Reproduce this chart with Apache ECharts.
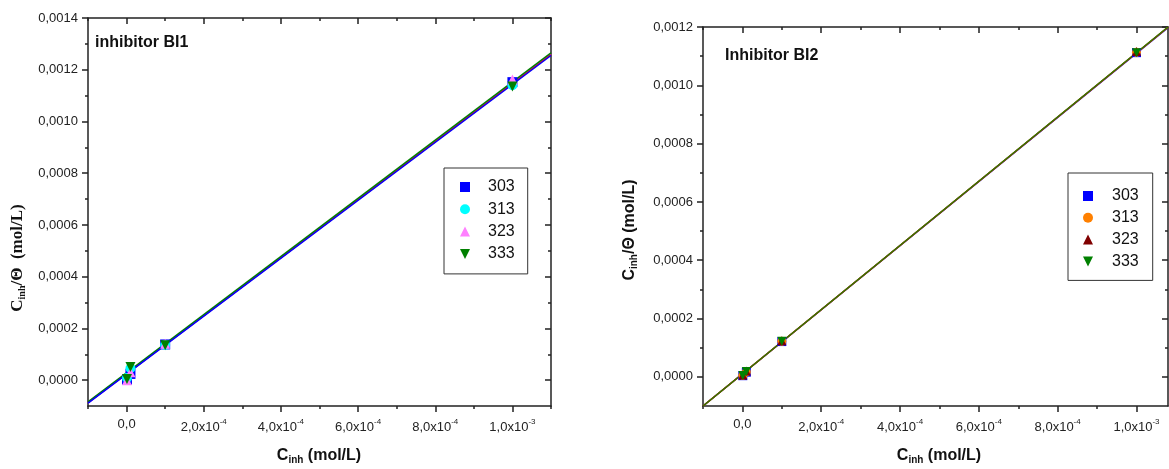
<!DOCTYPE html>
<html>
<head>
<meta charset="utf-8">
<script src="https://cdn.jsdelivr.net/npm/echarts@6/dist/echarts.min.js"></script>
<style>
  html, body { margin: 0; padding: 0; background: #fff; }
  #area { width: 1169px; height: 469px; }
</style>
</head>
<body>
<div id="area"></div>
<script>
// concentrations (mol/L)
const conc = [1e-6, 1e-5, 1e-4, 1e-3];
const temps = ['303', '313', '323', '333'];

// inhibitor BI1 : Cinh/theta
const bi1_303 = [2e-6, 2.4e-5, 1.38e-4, 1.152e-3];
const bi1_313 = [8e-6, 4.6e-5, 1.36e-4, 1.140e-3];
const bi1_323 = [0, 3.0e-5, 1.41e-4, 1.162e-3];
const bi1_333 = [4e-6, 5.1e-5, 1.35e-4, 1.135e-3];
// fit lines BI1 (ends of the plot)
const fitX1 = [-1e-4, 1.1e-3];
const fit1_303 = [-8.9e-5, 1.255e-3];
const fit1_313 = [-8.7e-5, 1.258e-3];
const fit1_323 = [-8.8e-5, 1.260e-3];
const fit1_333 = [-8.4e-5, 1.265e-3];

// inhibitor BI2
const bi2_303 = [4e-6, 1.6e-5, 1.21e-4, 1.112e-3];
const bi2_313 = [5e-6, 1.7e-5, 1.22e-4, 1.113e-3];
const bi2_323 = [6e-6, 2.0e-5, 1.24e-4, 1.116e-3];
const bi2_333 = [5e-6, 1.8e-5, 1.22e-4, 1.112e-3];
const fitX2 = [-1e-4, 1.08e-3];
const fit2_303 = [-1.0e-4, 1.198e-3];
const fit2_313 = [-1.0e-4, 1.199e-3];
const fit2_323 = [-1.0e-4, 1.199e-3];
const fit2_333 = [-1.0e-4, 1.200e-3];

// ticks
const xMajor = [0, 2e-4, 4e-4, 6e-4, 8e-4, 1e-3];
const xLabels = ['0,0', '2,0x10{s|-4}', '4,0x10{s|-4}', '6,0x10{s|-4}', '8,0x10{s|-4}', '1,0x10{s|-3}'];
const xMinor1 = [-1e-4, 1e-4, 3e-4, 5e-4, 7e-4, 9e-4, 1.1e-3];
const xMinor2 = [-1e-4, 1e-4, 3e-4, 5e-4, 7e-4, 9e-4];
const yMajor1 = [0, 2e-4, 4e-4, 6e-4, 8e-4, 1e-3, 1.2e-3, 1.4e-3];
const yLabels1 = ['0,0000', '0,0002', '0,0004', '0,0006', '0,0008', '0,0010', '0,0012', '0,0014'];
const yMinor1 = [1e-4, 3e-4, 5e-4, 7e-4, 9e-4, 1.1e-3, 1.3e-3];
const yMajor2 = [0, 2e-4, 4e-4, 6e-4, 8e-4, 1e-3, 1.2e-3];
const yLabels2 = ['0,0000', '0,0002', '0,0004', '0,0006', '0,0008', '0,0010', '0,0012'];
const yMinor2 = [1e-4, 3e-4, 5e-4, 7e-4, 9e-4, 1.1e-3];

const colors1 = ['#0000ff', '#00ffff', '#ff80ff', '#008000'];
const colors2 = ['#0000ff', '#ff8000', '#800000', '#008000'];
const fitColors1 = ['#0000ff', '#ff0000', '#ff00ff', '#008000'];
const fitColors2 = ['#0000ff', '#ff8000', '#cc0000', '#2e7d00'];
const symbols = ['rect', 'circle', 'triangle', 'triangle'];
const rotates = [0, 0, 0, 180];
const legendIcons = ['rect', 'circle', 'triangle', 'path://M0,0L10,0L5,10Z'];

const axisLine = { color: '#222', width: 1.5 };
const labelFont = { fontFamily: 'Arial, Liberation Sans', fontSize: 13, color: '#222' };

function pick(list, labels, v) {
  for (let i = 0; i < list.length; i++) {
    if (Math.abs(list[i] - v) < 1e-9) return labels[i];
  }
  return '';
}

// 4 axes per dimension: main side (major+minor), opposite side (major+minor)
function boxAxes(grid, min, max, majors, minors, labels, sides, margin) {
  const base = { type: 'value', gridIndex: grid, min: min, max: max, splitLine: { show: false } };
  return [
    Object.assign({}, base, {
      position: sides[0],
      axisLine: { show: true, onZero: false, lineStyle: axisLine },
      axisTick: { show: true, customValues: majors, length: 6, lineStyle: axisLine },
      axisLabel: Object.assign({
        customValues: majors, margin: margin,
        formatter: v => pick(majors, labels, v),
        rich: { s: { fontFamily: 'Arial, Liberation Sans', fontSize: 8, color: '#222', padding: [0, 0, 10, 0] } }
      }, labelFont)
    }),
    Object.assign({}, base, {
      position: sides[0],
      axisLine: { show: false, onZero: false },
      axisTick: { show: true, customValues: minors, length: 3, lineStyle: axisLine },
      axisLabel: { show: false }
    }),
    Object.assign({}, base, {
      position: sides[1],
      axisLine: { show: true, onZero: false, lineStyle: axisLine },
      axisTick: { show: true, inside: true, customValues: majors, length: 6, lineStyle: axisLine },
      axisLabel: { show: false }
    }),
    Object.assign({}, base, {
      position: sides[1],
      axisLine: { show: false, onZero: false },
      axisTick: { show: true, inside: true, customValues: minors, length: 3, lineStyle: axisLine },
      axisLabel: { show: false }
    })
  ];
}

const xAxes = boxAxes(0, -1e-4, 1.1e-3, xMajor, xMinor1, xLabels, ['bottom', 'top'], 12)
  .concat(boxAxes(1, -1e-4, 1.08e-3, xMajor, xMinor2, xLabels, ['bottom', 'top'], 12));
const yAxes = boxAxes(0, -1e-4, 1.4e-3, yMajor1, yMinor1, yLabels1, ['left', 'right'], 10)
  .concat(boxAxes(1, -1e-4, 1.2e-3, yMajor2, yMinor2, yLabels2, ['left', 'right'], 10));

function zip(xs, ys) { return xs.map((x, i) => [x, ys[i]]); }

const series = [];
function addFits(prefix, axisIdx, fx, fits, cols, order) {
  order.forEach(i => {
    series.push({
      name: prefix + ' fit ' + temps[i], type: 'line', xAxisIndex: axisIdx, yAxisIndex: axisIdx,
      data: zip(fx, fits[i]), symbol: 'none', silent: true,
      lineStyle: { color: cols[i], width: 1.5 }, z: 2
    });
  });
}
function addPoints(prefix, axisIdx, sets, cols, size) {
  sets.forEach((ys, i) => {
    series.push({
      name: prefix + ' ' + temps[i], type: 'scatter', xAxisIndex: axisIdx, yAxisIndex: axisIdx,
      data: zip(conc, ys), symbol: symbols[i], symbolRotate: rotates[i], symbolSize: size,
      itemStyle: { color: cols[i], opacity: 1 }, z: 3
    });
  });
}
addFits('BI1', 0, fitX1, [fit1_303, fit1_313, fit1_323, fit1_333], fitColors1, [2, 1, 3, 0]);
addPoints('BI1', 0, [bi1_303, bi1_313, bi1_323, bi1_333], colors1, 10);
addFits('BI2', 4, fitX2, [fit2_303, fit2_313, fit2_323, fit2_333], fitColors2, [0, 1, 2, 3]);
addPoints('BI2', 4, [bi2_303, bi2_313, bi2_323, bi2_333], colors2, 9);

function legendData(prefix) {
  return temps.map((t, i) => ({ name: prefix + ' ' + t, icon: legendIcons[i] }));
}

const legendBase = {
  orient: 'vertical', itemWidth: 10, itemHeight: 10, selectedMode: false,
  backgroundColor: '#fff', borderColor: '#333', borderWidth: 1, borderRadius: 0,
  formatter: name => name.split(' ')[1]
};

const sub = { fontSize: 10, fontWeight: 'bold', padding: [8, 0, 0, 0] };

const option = {
  animation: false,
  backgroundColor: '#fff',
  grid: [
    { left: 88, top: 18, right: 618, bottom: 63 },
    { left: 703, top: 27, right: 1, bottom: 63 }
  ],
  xAxis: xAxes,
  yAxis: yAxes,
  legend: [
    Object.assign({}, legendBase, {
      left: 444, top: 168, itemGap: 6.3, padding: [11, 13, 12, 16],
      textStyle: { fontFamily: 'Arial, Liberation Sans', fontSize: 16, color: '#111', padding: [0, 0, 0, 13] },
      data: legendData('BI1')
    }),
    Object.assign({}, legendBase, {
      left: 1068, top: 173, itemGap: 5.8, padding: [15, 14, 11, 15],
      textStyle: { fontFamily: 'Arial, Liberation Sans', fontSize: 16, color: '#111', padding: [0, 0, 0, 14] },
      data: legendData('BI2')
    })
  ],
  graphic: [
    { type: 'text', left: 95, top: 35, style: { text: 'inhibitor BI1', font: 'bold 16px Arial, Liberation Sans', fill: '#111' } },
    { type: 'text', left: 725, top: 48, style: { text: 'Inhibitor BI2', font: 'bold 16px Arial, Liberation Sans', fill: '#111' } },
    {
      type: 'text', x: 319, y: 456, style: {
        text: '{b|C}{s|inh}{b| (mol/L)}', align: 'center', verticalAlign: 'middle', fill: '#111',
        rich: { b: { fontFamily: 'Arial, Liberation Sans', fontSize: 16, fontWeight: 'bold' }, s: Object.assign({ fontFamily: 'Arial' }, sub) }
      }
    },
    {
      type: 'text', x: 939, y: 456, style: {
        text: '{b|C}{s|inh}{b| (mol/L)}', align: 'center', verticalAlign: 'middle', fill: '#111',
        rich: { b: { fontFamily: 'Arial, Liberation Sans', fontSize: 16, fontWeight: 'bold' }, s: Object.assign({ fontFamily: 'Arial' }, sub) }
      }
    },
    {
      type: 'text', x: 18, y: 258, rotation: Math.PI / 2, style: {
        text: '{b|C}{s|inh}{b|/Θ  (mol/L)}', align: 'center', verticalAlign: 'middle', fill: '#111',
        rich: { b: { fontFamily: 'Times New Roman, Liberation Serif', fontSize: 17, fontWeight: 'bold' }, s: Object.assign({ fontFamily: 'Liberation Serif' }, sub) }
      }
    },
    {
      type: 'text', x: 630, y: 230, rotation: Math.PI / 2, style: {
        text: '{b|C}{s|inh}{b|/Θ (mol/L)}', align: 'center', verticalAlign: 'middle', fill: '#111',
        rich: { b: { fontFamily: 'Arial, Liberation Sans', fontSize: 16, fontWeight: 'bold' }, s: Object.assign({ fontFamily: 'Arial' }, sub) }
      }
    }
  ],
  series: series
};

const myChart = echarts.init(document.getElementById('area'));
myChart.setOption(option);
window.addEventListener('resize', function () { myChart.resize(); }, false);
</script>
</body>
</html>
